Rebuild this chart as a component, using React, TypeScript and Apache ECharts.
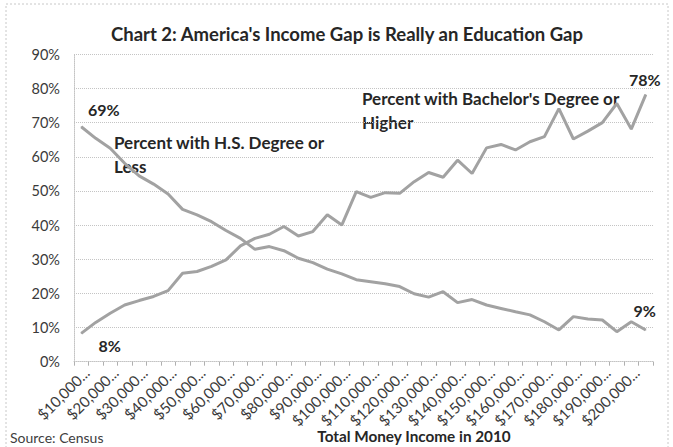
import React, { useEffect, useRef } from "react";
import * as echarts from "echarts";

const titleText = "Chart 2: America's Income Gap is Really an Education Gap";
const xAxisTitle = "Total Money Income in 2010";
const sourceText = "Source: Census";
const hsName = "Percent with H.S. Degree or\nLess";
const baName = "Percent with Bachelor's Degree or\nHigher";

const categories = [
  "$10,000 to $14,999", "$15,000 to $19,999", "$20,000 to $24,999", "$25,000 to $29,999",
  "$30,000 to $34,999", "$35,000 to $39,999", "$40,000 to $44,999", "$45,000 to $49,999",
  "$50,000 to $54,999", "$55,000 to $59,999", "$60,000 to $64,999", "$65,000 to $69,999",
  "$70,000 to $74,999", "$75,000 to $79,999", "$80,000 to $84,999", "$85,000 to $89,999",
  "$90,000 to $94,999", "$95,000 to $99,999", "$100,000 to $104,999", "$105,000 to $109,999",
  "$110,000 to $114,999", "$115,000 to $119,999", "$120,000 to $124,999", "$125,000 to $129,999",
  "$130,000 to $134,999", "$135,000 to $139,999", "$140,000 to $144,999", "$145,000 to $149,999",
  "$150,000 to $154,999", "$155,000 to $159,999", "$160,000 to $164,999", "$165,000 to $169,999",
  "$170,000 to $174,999", "$175,000 to $179,999", "$180,000 to $184,999", "$185,000 to $189,999",
  "$190,000 to $194,999", "$195,000 to $199,999", "$200,000 to $249,999", "$250,000 and over",
];

const hsValues = [
  68.8, 65.4, 62.5, 58.1, 54.4, 52.0, 49.1, 44.6, 43.0, 41.0, 38.4, 36.1, 32.9, 33.7,
  32.5, 30.3, 29.0, 27.1, 25.7, 24.0, 23.4, 22.8, 22.0, 19.9, 18.9, 20.5,
  17.3, 18.2, 16.6, 15.6, 14.6, 13.7, 11.7, 9.3, 13.2, 12.5, 12.2, 8.8, 11.7, 9.3,
];

const baValues = [
  8.3, 11.5, 14.2, 16.6, 17.9, 19.1, 20.8, 25.9, 26.4, 27.9, 29.8, 33.9, 36.1, 37.3,
  39.6, 36.8, 38.1, 43.0, 40.0, 49.8, 48.1, 49.5, 49.3, 52.7, 55.4, 54.0,
  59.0, 55.1, 62.6, 63.6, 62.0, 64.4, 65.9, 74.1, 65.2, 67.5, 70.0, 75.6, 68.1, 78.2,
];

const yMin = 0;
const yMax = 90;
const yStep = 10;

const FONT = "Lato, 'Liberation Sans', Arial, sans-serif";
const TEXT = "#262626";
const GRID = "#c4c4c4";
const LINE = "#a2a2a2";

function withEndLabels(values: number[], first: number[], last: number[]) {
  return values.map((v, i) => {
    if (i === 0 || i === values.length - 1) {
      return {
        value: v,
        label: {
          show: true,
          position: "inside",
          offset: i === 0 ? first : last,
          formatter: (p: any) => Math.round(p.value) + "%",
          fontFamily: FONT,
          fontWeight: "bold",
          fontSize: 16,
          color: TEXT,
        },
      };
    }
    return v;
  });
}

export default function App() {
  const ref = useRef<HTMLDivElement>(null);

  useEffect(() => {
    if (!ref.current) return;
    const chart = echarts.init(ref.current, null, { renderer: "svg" });
    chart.setOption({
      animation: false,
      backgroundColor: "#ffffff",
      grid: { left: 74, right: 20, top: 54.3, bottom: 85.3, containLabel: false },
      xAxis: {
        type: "category",
        data: categories,
        boundaryGap: true,
        axisLine: { show: true, lineStyle: { color: GRID, type: "dotted", width: 1 } },
        axisTick: { show: true, interval: 0, length: 4, lineStyle: { color: "#b0b0b0" } },
        axisLabel: {
          interval: 1,
          rotate: 45,
          margin: 3,
          verticalAlign: "top",
          fontFamily: FONT,
          fontSize: 15,
          color: "#3a3a3a",
          formatter: (v: string) => v.split(" ")[0] + "...",
        },
        splitLine: { show: false },
      },
      yAxis: {
        type: "value",
        min: yMin,
        max: yMax,
        interval: yStep,
        axisLine: { show: true, lineStyle: { color: GRID, type: "dotted", width: 1 } },
        axisTick: { show: false },
        axisLabel: {
          margin: 14,
          fontFamily: FONT,
          fontSize: 14.5,
          color: "#3a3a3a",
          formatter: "{value}%",
        },
        splitLine: { show: true, lineStyle: { color: GRID, type: "dotted", width: 1 } },
      },
      series: [
        {
          name: "H.S. Degree or Less",
          type: "line",
          data: withEndLabels(hsValues, [22.5, -17.7], [-1, -19]),
          symbol: "circle",
          symbolSize: 1,
          showSymbol: true,
          itemStyle: { color: LINE },
          lineStyle: { color: LINE, width: 3 },
          label: { show: false },
        },
        {
          name: "Bachelor's Degree or Higher",
          type: "line",
          data: withEndLabels(baValues, [28.5, 12], [-1, -15.6]),
          symbol: "circle",
          symbolSize: 1,
          showSymbol: true,
          itemStyle: { color: LINE },
          lineStyle: { color: LINE, width: 3 },
          label: { show: false },
        },
      ],
      graphic: [
        {
          type: "rect",
          silent: true,
          shape: { x: 6, y: 4, width: 662, height: 470 },
          style: { fill: "none", stroke: "#c8c8c8", lineWidth: 1, lineDash: [2, 2] },
        },
        {
          type: "text",
          x: 347,
          y: 34,
          style: {
            text: titleText,
            fill: TEXT,
            font: `bold 18.5px ${FONT}`,
            textAlign: "center",
            textVerticalAlign: "middle",
          },
        },
        {
          type: "text",
          x: 114,
          y: 131,
          style: {
            text: hsName,
            fill: TEXT,
            font: `bold 17px ${FONT}`,
            lineHeight: 23.5,
            textAlign: "left",
            textVerticalAlign: "top",
          },
        },
        {
          type: "text",
          x: 362,
          y: 87,
          style: {
            text: baName,
            fill: TEXT,
            font: `bold 17px ${FONT}`,
            lineHeight: 23.5,
            textAlign: "left",
            textVerticalAlign: "top",
          },
        },
        {
          type: "text",
          x: 414,
          y: 436,
          style: {
            text: xAxisTitle,
            fill: TEXT,
            font: `bold 15.3px ${FONT}`,
            textAlign: "center",
            textVerticalAlign: "middle",
          },
        },
        {
          type: "text",
          x: 10,
          y: 437,
          style: {
            text: sourceText,
            fill: "#404040",
            font: `14px ${FONT}`,
            textAlign: "left",
            textVerticalAlign: "middle",
          },
        },
      ],
    });
    return () => chart.dispose();
  }, []);

  return (
    <div
      ref={ref}
      style={{ position: "fixed", left: 0, top: 0, width: 673, height: 447, background: "#fff" }}
    />
  );
}
